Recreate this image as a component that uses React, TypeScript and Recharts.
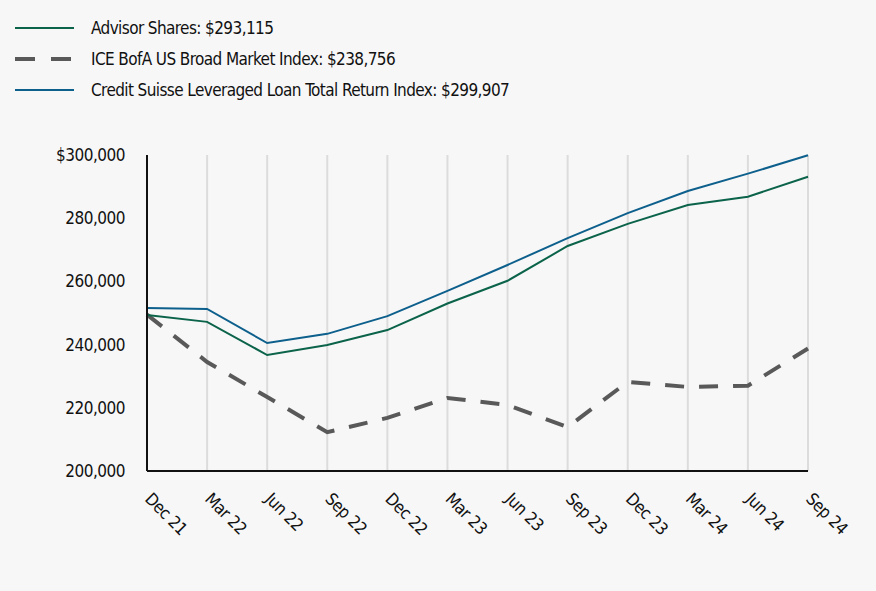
import React from 'react';
import { LineChart, Line, XAxis, YAxis, CartesianGrid } from 'recharts';

const periods = ['Dec 21', 'Mar 22', 'Jun 22', 'Sep 22', 'Dec 22', 'Mar 23', 'Jun 23', 'Sep 23', 'Dec 23', 'Mar 24', 'Jun 24', 'Sep 24'];
const advisorShares = [249400, 247200, 236700, 239900, 244600, 253000, 260200, 271200, 278200, 284200, 286800, 293115];
const iceBofA = [249500, 234500, 223400, 212300, 216800, 223100, 220900, 213900, 228200, 226600, 227000, 238756];
const creditSuisse = [251600, 251300, 240500, 243400, 249000, 257000, 265200, 273700, 281600, 288600, 294100, 299907];
const yTicks = [200000, 220000, 240000, 260000, 280000, 300000];

const FONT = '"DejaVu Sans Condensed", "DejaVu Sans", sans-serif';
const GREEN = '#0b634a';
const GRAY = '#595959';
const BLUE = '#0d5f8c';

const legendItems = [
  { label: 'Advisor Shares: $293,115', color: GREEN, dashed: false },
  { label: 'ICE BofA US Broad Market Index: $238,756', color: GRAY, dashed: true },
  { label: 'Credit Suisse Leveraged Loan Total Return Index: $299,907', color: BLUE, dashed: false },
];

const data = periods.map((p, i) => ({
  period: p,
  advisor: advisorShares[i],
  ice: iceBofA[i],
  cs: creditSuisse[i],
}));

const fmtY = (v: number) => (v === 300000 ? '$' : '') + v.toLocaleString('en-US');

const textStyle = { fontStretch: 'condensed', letterSpacing: -0.5 } as React.CSSProperties;

const XTick = (props: any) => {
  const { x, y, payload } = props;
  const tx = x - 3;
  const ty = y + 21;
  return (
    <text
      x={tx}
      y={ty}
      transform={`rotate(45, ${tx}, ${ty})`}
      textAnchor="start"
      fill="#111"
      fontSize={17}
      fontFamily={FONT}
      style={textStyle}
    >
      {payload.value}
    </text>
  );
};

const YTick = (props: any) => {
  const { y, payload } = props;
  return (
    <text x={125} y={y} dy={6} textAnchor="end" fill="#111" fontSize={17} fontFamily={FONT} style={textStyle}>
      {fmtY(payload.value)}
    </text>
  );
};

export default function App() {
  return (
    <div
      style={{
        position: 'absolute',
        left: 0,
        top: 0,
        width: 876,
        height: 591,
        background: '#f7f7f7',
        fontFamily: FONT,
        fontStretch: 'condensed',
      }}
    >
      <div style={{ position: 'absolute', left: 15, top: 12 }}>
        {legendItems.map((it) => (
          <div key={it.label} style={{ display: 'flex', alignItems: 'center', height: 31 }}>
            <svg width={59} height={8} style={{ marginRight: 17 }}>
              <line
                x1={0}
                y1={4}
                x2={59}
                y2={4}
                stroke={it.color}
                strokeWidth={it.dashed ? 4 : 2}
                strokeDasharray={it.dashed ? '20 16' : undefined}
              />
            </svg>
            <span style={{ fontSize: 17, color: '#111', letterSpacing: -0.6 }}>{it.label}</span>
          </div>
        ))}
      </div>
      <LineChart width={876} height={591} data={data} margin={{ top: 155, right: 68, bottom: 0, left: 0 }}>
        <CartesianGrid horizontal={false} stroke="#dcdcdc" strokeWidth={2} />
        <XAxis
          dataKey="period"
          tick={<XTick />}
          tickLine={false}
          axisLine={{ stroke: '#111', strokeWidth: 2 }}
          interval={0}
          height={120}
        />
        <YAxis
          width={147}
          domain={[200000, 300000]}
          ticks={yTicks}
          tick={<YTick />}
          tickLine={false}
          axisLine={{ stroke: '#111', strokeWidth: 2 }}
        />
        <Line dataKey="ice" stroke={GRAY} strokeWidth={4} strokeDasharray="19 15" dot={false} isAnimationActive={false} />
        <Line dataKey="advisor" stroke={GREEN} strokeWidth={2} dot={false} isAnimationActive={false} />
        <Line dataKey="cs" stroke={BLUE} strokeWidth={2} dot={false} isAnimationActive={false} />
      </LineChart>
    </div>
  );
}
